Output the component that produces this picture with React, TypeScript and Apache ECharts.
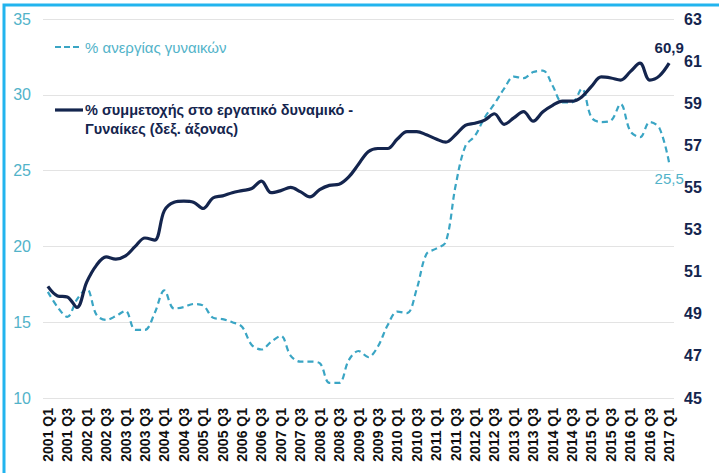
import React, { useEffect, useRef } from "react";
import * as echarts from "echarts";

const years = Array.from({ length: 17 }, (_, k) => 2001 + k);
const quarters: string[] = [];
years.forEach((y) => {
  ["Q1", "Q2", "Q3", "Q4"].forEach((q) => {
    if (y === 2017 && q !== "Q1") return;
    quarters.push(`${y} ${q}`);
  });
});

// % ανεργίας γυναικών (left axis)
const unemployment = [
  17.0, 16.0, 15.35, 16.5, 17.2, 15.5, 15.15, 15.4, 15.75, 14.5,
  14.5, 15.6, 17.1, 15.9, 16.0, 16.2, 16.1, 15.3, 15.2, 15.0,
  14.7, 13.5, 13.2, 13.7, 14.1, 12.8, 12.4, 12.4, 12.3, 11.0,
  11.0, 12.5, 13.1, 12.7, 13.4, 14.8, 15.7, 15.6, 17.2, 19.5,
  19.85, 20.3, 24.0, 26.6, 27.3, 28.5, 29.4, 30.4, 31.2, 31.1,
  31.5, 31.6, 30.6, 29.5, 29.5, 30.4, 28.5, 28.2, 28.3, 29.4,
  27.6, 27.2, 28.2, 27.8, 25.5,
];

// % συμμετοχής στο εργατικό δυναμικό - Γυναίκες (right axis)
const participation = [
  50.3, 49.85, 49.8, 49.3, 50.5, 51.3, 51.7, 51.6, 51.75, 52.2,
  52.6, 52.5, 53.9, 54.3, 54.35, 54.3, 54.0, 54.5, 54.6, 54.75,
  54.85, 54.95, 55.3, 54.75, 54.85, 55.0, 54.8, 54.55, 54.9, 55.1,
  55.15, 55.5, 56.1, 56.7, 56.85, 56.85, 57.3, 57.65, 57.65, 57.5,
  57.3, 57.15, 57.5, 57.95, 58.05, 58.2, 58.5, 58.0, 58.3, 58.6,
  58.15, 58.6, 58.9, 59.1, 59.1, 59.3, 59.8, 60.25, 60.2, 60.1,
  60.5, 60.9, 60.1, 60.3, 60.9,
];

const leftTicks = { min: 10, max: 35, interval: 5 };
const rightTicks = { min: 45, max: 63, interval: 2 };

const NAVY = "#14254e";
const TEAL = "#3aa5c4";
const TEAL_TEXT = "#52b3c9";
const FONT = "'Liberation Sans', Arial, sans-serif";

const fmt = (v: number) => v.toFixed(1).replace(".", ",");

export default function App() {
  const ref = useRef<HTMLDivElement>(null);
  useEffect(() => {
    if (!ref.current) return;
    const chart = echarts.init(ref.current, null, { renderer: "svg" });
    chart.setOption({
      animation: false,
      backgroundColor: "#ffffff",
      textStyle: { fontFamily: FONT },
      grid: { left: 43, right: 45, top: 19, bottom: 75, containLabel: false },
      xAxis: {
        type: "category",
        data: quarters,
        boundaryGap: true,
        axisLine: { show: false },
        axisTick: { show: false },
        axisLabel: {
          interval: 1,
          rotate: 90,
          margin: 10,
          color: "#111111",
          fontWeight: "bold",
          fontSize: 14,
          fontFamily: FONT,
        },
        splitLine: { show: false },
      },
      yAxis: [
        {
          type: "value",
          ...leftTicks,
          position: "left",
          axisLine: { show: false },
          axisTick: { show: false },
          axisLabel: { color: TEAL_TEXT, fontSize: 16, margin: 12, fontFamily: FONT },
          splitLine: { show: true, lineStyle: { color: "#e3e3e3", width: 1 } },
        },
        {
          type: "value",
          ...rightTicks,
          position: "right",
          axisLine: { show: false },
          axisTick: { show: false },
          axisLabel: { color: NAVY, fontSize: 16, fontWeight: "bold", margin: 10, fontFamily: FONT },
          splitLine: { show: false },
        },
      ],
      series: [
        {
          name: "% ανεργίας γυναικών",
          type: "line",
          yAxisIndex: 0,
          smooth: 0.35,
          symbol: "none",
          lineStyle: { color: TEAL, width: 2.2, type: [6, 4] },
          data: unemployment,
          endLabel: {
            show: true,
            formatter: (p: any) => fmt(Number(p.value)),
            color: TEAL_TEXT,
            fontSize: 15,
            fontFamily: FONT,
            align: "center",
            verticalAlign: "top",
            distance: 0,
            offset: [0, 8],
          },
        },
        {
          name: "% συμμετοχής στο εργατικό δυναμικό - Γυναίκες (δεξ. άξονας)",
          type: "line",
          yAxisIndex: 1,
          smooth: 0.35,
          symbol: "none",
          lineStyle: { color: NAVY, width: 3.2 },
          data: participation,
          endLabel: {
            show: true,
            formatter: (p: any) => fmt(Number(p.value)),
            color: NAVY,
            fontSize: 15,
            fontWeight: "bold",
            fontFamily: FONT,
            align: "center",
            verticalAlign: "bottom",
            distance: 0,
            offset: [0, -8],
          },
        },
      ],
      graphic: [
        {
          type: "rect",
          silent: true,
          shape: { x: 4, y: 5, width: 760, height: 520 },
          style: { fill: "none", stroke: "#22b4ee", lineWidth: 3 },
          z: 100,
        },
        {
          type: "line",
          shape: { x1: 55, y1: 47, x2: 81, y2: 47 },
          style: { stroke: TEAL, lineWidth: 2.2, lineDash: [6, 3] },
        },
        {
          type: "text",
          x: 85,
          y: 47,
          style: {
            text: "% ανεργίας γυναικών",
            fill: TEAL_TEXT,
            font: `15px ${FONT}`,
            verticalAlign: "middle",
          },
        },
        {
          type: "line",
          shape: { x1: 55, y1: 110, x2: 83, y2: 110 },
          style: { stroke: NAVY, lineWidth: 3.2 },
        },
        {
          type: "text",
          x: 85,
          y: 110,
          style: {
            text: "% συμμετοχής στο εργατικό δυναμικό -",
            fill: NAVY,
            font: `bold 14.5px ${FONT}`,
            verticalAlign: "middle",
          },
        },
        {
          type: "text",
          x: 85,
          y: 129,
          style: {
            text: "Γυναίκες (δεξ. άξονας)",
            fill: NAVY,
            font: `bold 14.5px ${FONT}`,
            verticalAlign: "middle",
          },
        },
      ],
    });
    return () => chart.dispose();
  }, []);
  return (
    <div
      ref={ref}
      style={{ position: "fixed", left: 0, top: 0, width: 719, height: 473 }}
    />
  );
}
